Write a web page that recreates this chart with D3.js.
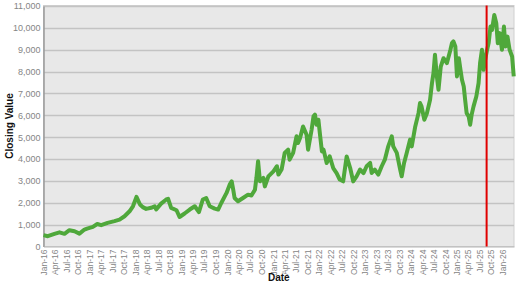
<!DOCTYPE html>
<html>
<head>
<meta charset="utf-8">
<script src="https://cdn.jsdelivr.net/npm/d3@7"></script>
<style>
  html, body { margin: 0; padding: 0; background: #ffffff; }
  svg { display: block; }
</style>
</head>
<body>
<svg id="chart" width="519" height="288"></svg>
<script>
// ---- data ----
const dates = [
  "2016-01-01","2016-02-04","2016-03-28","2016-05-07","2016-06-16","2016-07-25","2016-09-04","2016-10-13","2016-11-22","2016-12-13",
  "2017-01-28","2017-03-04","2017-04-04","2017-05-25","2017-07-19","2017-08-28","2017-10-07","2017-11-16","2017-12-13",
  "2018-01-10","2018-02-07","2018-03-01","2018-03-28","2018-05-07","2018-06-04","2018-06-16","2018-07-25","2018-09-04","2018-09-19","2018-10-13","2018-11-25","2018-12-19",
  "2019-01-28","2019-03-10","2019-04-19","2019-05-22","2019-06-22","2019-07-19","2019-08-16","2019-09-25","2019-10-22","2019-11-16","2019-12-28",
  "2020-01-22","2020-02-07","2020-02-19","2020-03-01","2020-03-28","2020-05-07","2020-06-16","2020-07-13","2020-08-10","2020-08-22","2020-09-04","2020-09-19","2020-10-16","2020-10-28","2020-11-25",
  "2021-01-04","2021-02-01","2021-02-13","2021-03-10","2021-04-04","2021-05-01","2021-05-13","2021-06-10","2021-07-07","2021-07-19","2021-08-04","2021-08-28","2021-09-25","2021-10-07","2021-11-04","2021-11-19","2021-12-01","2021-12-13","2021-12-28",
  "2022-01-10","2022-01-25","2022-02-07","2022-03-04","2022-03-28","2022-04-25","2022-05-22","2022-06-16","2022-07-13","2022-08-10","2022-09-07","2022-10-01","2022-10-28","2022-11-25","2022-12-22",
  "2023-01-16","2023-02-13","2023-02-25","2023-03-22","2023-04-19","2023-05-16","2023-06-10","2023-07-07","2023-08-04","2023-08-16","2023-09-13","2023-10-10","2023-10-22","2023-11-10","2023-12-01","2023-12-28",
  "2024-01-10","2024-02-07","2024-03-04","2024-03-16","2024-03-28","2024-04-19","2024-05-10","2024-06-04","2024-06-19","2024-07-01","2024-07-13","2024-07-28","2024-08-10","2024-08-28","2024-09-19","2024-10-16","2024-11-13","2024-11-25","2024-12-07","2024-12-22",
  "2025-01-04","2025-01-19","2025-02-01","2025-02-13","2025-02-27","2025-03-10","2025-03-22","2025-04-07","2025-04-19","2025-05-01","2025-05-16","2025-06-07","2025-06-25","2025-07-07","2025-07-22","2025-08-04","2025-08-16","2025-09-01","2025-09-13","2025-09-28","2025-10-10","2025-10-28","2025-11-13","2025-11-25","2025-12-10","2025-12-28",
  "2026-01-13","2026-01-25","2026-02-10","2026-02-27","2026-03-19","2026-04-01"
];
const closingValues = [
  520,470,580,650,580,745,700,590,775,820,
  900,1030,975,1080,1160,1230,1385,1610,1840,
  2270,1920,1800,1720,1770,1840,1700,1960,2150,2180,1770,1660,1350,
  1510,1690,1840,1570,2150,2220,1840,1735,1690,1990,2450,
  2830,2980,2600,2220,2070,2220,2370,2330,2600,3140,3900,2980,3140,2750,3210,
  3440,3670,3290,3520,4280,4430,3970,4280,5040,4730,4960,5490,5110,4430,5340,5950,6030,5570,5800,
  5110,4350,4430,3820,4120,3590,3360,3060,2980,4120,3590,2980,3210,3520,3360,
  3670,3820,3360,3520,3290,3670,3970,4580,5040,4580,4280,3520,3210,3820,4280,4890,
  4580,5490,6100,6560,6410,5800,6100,6710,7470,7930,8770,7780,7170,8230,8610,8390,9000,9300,9380,9150,
  7780,8610,8080,7630,7320,6710,6100,5950,5570,6030,6410,6860,7470,8390,9000,8080,8540,9000,9300,10060,9910,10590,10210,9300,9760,9000,
  10060,9150,9600,9000,8690,7780
];
const yTicks = [0,1000,2000,3000,4000,5000,6000,7000,8000,9000,10000,11000];
const xTickLabels = [
  "Jan-16","Apr-16","Jul-16","Oct-16","Jan-17","Apr-17","Jul-17","Oct-17",
  "Jan-18","Apr-18","Jul-18","Oct-18","Jan-19","Apr-19","Jul-19","Oct-19",
  "Jan-20","Apr-20","Jul-20","Oct-20","Jan-21","Apr-21","Jul-21","Oct-21",
  "Jan-22","Apr-22","Jul-22","Oct-22","Jan-23","Apr-23","Jul-23","Oct-23",
  "Jan-24","Apr-24","Jul-24","Oct-24","Jan-25","Apr-25","Jul-25","Oct-25","Jan-26"
];
const markerDate = "2025-08-28";
const xDomain = ["2016-01-01","2026-04-03"];

// ---- chart ----
(function () {
const parse = d3.timeParse("%Y-%m-%d");
const parseTick = d3.timeParse("%b-%y");
const data = dates.map((d, i) => ({ date: parse(d), value: closingValues[i] }));

const svg = d3.select("#chart");
const pL = 43.5, pR = 514, pT = 5.5, pB = 246.5;

const x = d3.scaleTime().domain(xDomain.map(parse)).range([pL, pR]);
const y = d3.scaleLinear().domain([0, 11000]).range([pB, pT + 0.5]);

// plot background
svg.append("rect")
  .attr("x", pL).attr("y", pT)
  .attr("width", pR - pL).attr("height", pB - pT)
  .attr("fill", "#e8e8e8")
  .attr("stroke", "#d0d0d0").attr("stroke-width", 1);

// gridlines
svg.append("g")
  .selectAll("line")
  .data(yTicks.slice(1))
  .join("line")
  .attr("x1", pL).attr("x2", pR)
  .attr("y1", d => Math.round(y(d)) + 0.5).attr("y2", d => Math.round(y(d)) + 0.5)
  .attr("stroke", "#c3c3c3").attr("stroke-width", 1.5);

// y axis
const yAxis = d3.axisLeft(y).tickValues(yTicks).tickFormat(d3.format(",")).tickSize(0).tickPadding(3);
const gy = svg.append("g").attr("transform", `translate(${pL},0)`).call(yAxis);
gy.select(".domain").attr("stroke", "#9a9a9a").attr("stroke-width", 1.5);
gy.selectAll("text").attr("fill", "#858585").attr("font-family", "Liberation Sans, Arial, sans-serif").attr("font-size", 9);

// x axis
const xAxis = d3.axisBottom(x).tickValues(xTickLabels.map(parseTick)).tickFormat(d3.timeFormat("%b-%y")).tickSize(0).tickPadding(3);
const gx = svg.append("g").attr("transform", `translate(0,${pB})`).call(xAxis);
gx.select(".domain").attr("stroke", "#b5b5b5").attr("stroke-width", 1);
gx.selectAll("text")
  .attr("fill", "#858585").attr("font-family", "Liberation Sans, Arial, sans-serif").attr("font-size", 8.5)
  .attr("text-anchor", "end")
  .attr("transform", "rotate(-90)")
  .attr("x", -3).attr("y", 0).attr("dy", "0.35em");

// line
const line = d3.line().x(d => x(d.date)).y(d => y(d.value));
svg.append("path")
  .datum(data)
  .attr("fill", "none")
  .attr("stroke", "#4fa83b")
  .attr("stroke-width", 4)
  .attr("stroke-linejoin", "round")
  .attr("d", line);

// marker line
svg.append("line")
  .attr("x1", x(parse(markerDate))).attr("x2", x(parse(markerDate)))
  .attr("y1", pT).attr("y2", pB)
  .attr("stroke", "#e00000").attr("stroke-width", 2);

// axis titles
svg.append("text")
  .attr("x", (pL + pR) / 2).attr("y", 281)
  .attr("text-anchor", "middle")
  .attr("font-family", "Liberation Sans, Arial, sans-serif").attr("font-size", 10).attr("font-weight", "bold")
  .attr("fill", "#111")
  .text("Date");
svg.append("text")
  .attr("transform", `translate(13,${(pT + pB) / 2}) rotate(-90)`)
  .attr("text-anchor", "middle")
  .attr("font-family", "Liberation Sans, Arial, sans-serif").attr("font-size", 10).attr("font-weight", "bold")
  .attr("fill", "#111")
  .text("Closing Value");
})();
</script>
</body>
</html>
